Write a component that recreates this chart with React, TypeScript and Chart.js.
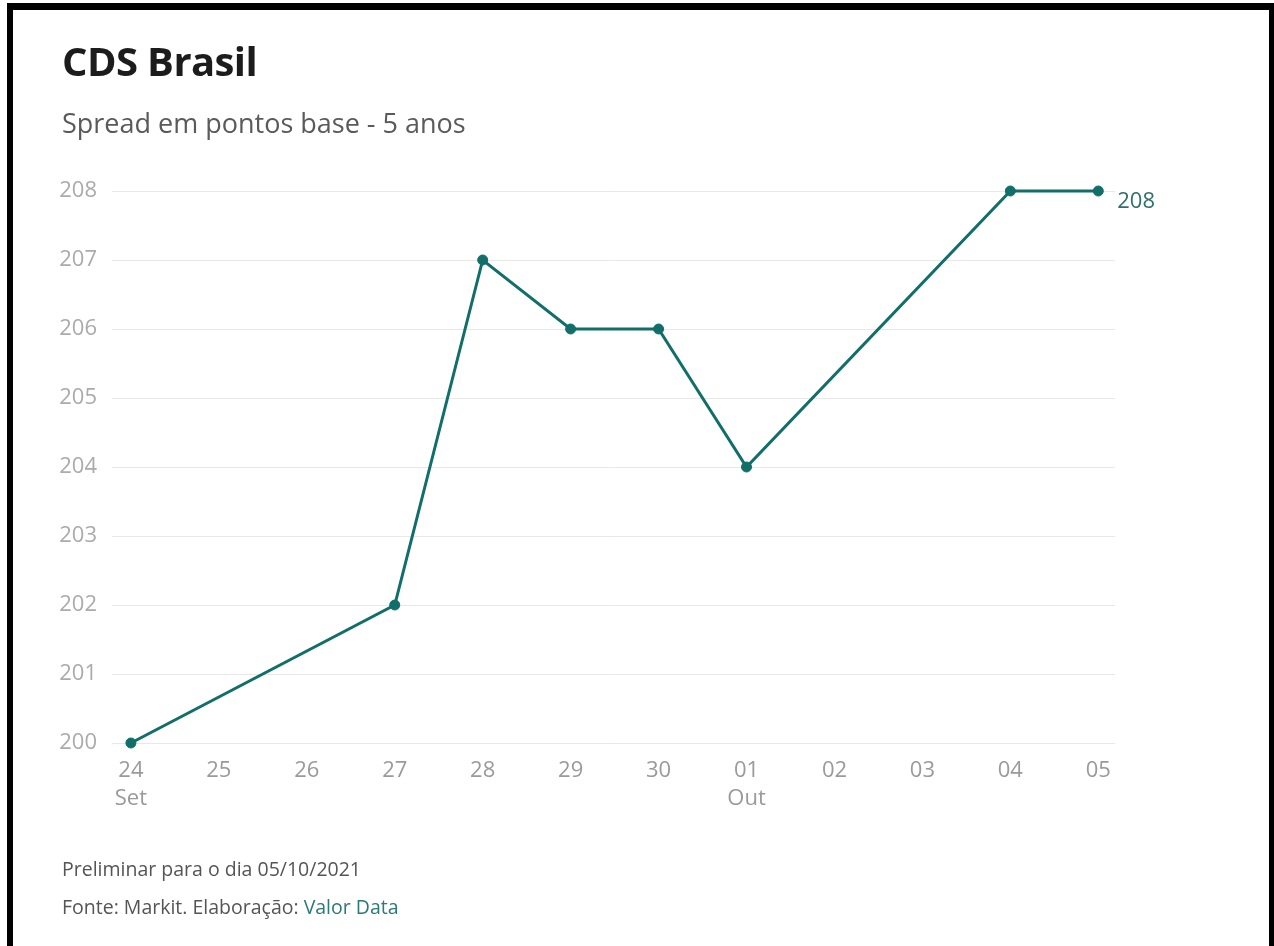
import React, { useEffect, useRef } from "react";
import { Chart, registerables } from "chart.js";

Chart.register(...registerables);

const dayLabels: (string | string[])[] = [
  ["24", "Set"], "25", "26", "27", "28", "29", "30", ["01", "Out"], "02", "03", "04", "05",
];
const spreadValues: (number | null)[] = [200, null, null, 202, 207, 206, 206, 204, null, null, 208, 208];
const yTicks = [200, 201, 202, 203, 204, 205, 206, 207, 208];

const FONT = "'Open Sans', 'Noto Sans', sans-serif";
const LINE_COLOR = "#116e69";

export default function App() {
  const canvasRef = useRef<HTMLCanvasElement | null>(null);

  useEffect(() => {
    const canvas = canvasRef.current;
    if (!canvas) return;
    const points = spreadValues
      .map((v, i) => (v === null ? null : { x: i, y: v }))
      .filter((p) => p !== null) as { x: number; y: number }[];

    const lastLabel = {
      id: "lastLabel",
      afterDatasetsDraw(chart: any) {
        const meta = chart.getDatasetMeta(0);
        const el = meta.data[meta.data.length - 1];
        const v = points[points.length - 1].y;
        const ctx = chart.ctx;
        ctx.save();
        ctx.font = `22px ${FONT}`;
        ctx.fillStyle = "#2f6f6c";
        ctx.textAlign = "left";
        ctx.textBaseline = "alphabetic";
        ctx.fillText(String(v), el.x + 19, el.y + 17);
        ctx.restore();
      },
    };

    const chart = new Chart(canvas, {
      type: "line",
      data: {
        datasets: [
          {
            data: points,
            borderColor: LINE_COLOR,
            backgroundColor: LINE_COLOR,
            borderWidth: 3,
            pointRadius: 5,
            pointBackgroundColor: LINE_COLOR,
            pointBorderColor: LINE_COLOR,
            pointBorderWidth: 1,
            tension: 0,
            clip: false,
          } as any,
        ],
      },
      options: {
        animation: false,
        responsive: false,
        layout: { padding: { top: 191, right: 159, left: 0, bottom: 0 } },
        plugins: { legend: { display: false }, tooltip: { enabled: false } },
        scales: {
          x: {
            type: "linear",
            min: -0.215,
            max: 11.19,
            grid: { display: false, drawTicks: false },
            border: { display: false },
            afterBuildTicks: (axis: any) => {
              axis.ticks = dayLabels.map((_, i) => ({ value: i }));
            },
            afterFit: (axis: any) => {
              axis.height = 946 - 743;
            },
            ticks: {
              autoSkip: false,
              maxRotation: 0,
              padding: 14,
              color: "#9a9a9a",
              font: { family: FONT, size: 22, lineHeight: 1.25 },
              callback: (value: any) => dayLabels[Math.round(Number(value))] as any,
            },
          },
          y: {
            min: 200,
            max: 208,
            grid: { color: "#e8e8e8", lineWidth: 1, drawTicks: false },
            border: { display: false },
            afterBuildTicks: (axis: any) => {
              axis.ticks = yTicks.map((v) => ({ value: v }));
            },
            afterFit: (axis: any) => {
              axis.width = 112;
            },
            ticks: {
              padding: 15,
              color: "#ababab",
              font: { family: FONT, size: 22 },
            },
          },
        },
      },
      plugins: [lastLabel],
    });
    return () => chart.destroy();
  }, []);

  const txt = (size: number, baseline: number, extra: React.CSSProperties = {}): React.CSSProperties => ({
    position: "absolute",
    left: 62,
    top: baseline - 0.888 * size,
    fontSize: size,
    lineHeight: 1,
    fontFamily: FONT,
    whiteSpace: "nowrap",
    ...extra,
  });

  return (
    <div style={{ position: "fixed", left: 0, top: 0, width: 1274, height: 946, background: "#fff", overflow: "hidden" }}>
      <canvas ref={canvasRef} width={1274} height={946} style={{ position: "absolute", left: 0, top: 0, width: 1274, height: 946 }} />
      <div
        style={{
          position: "absolute",
          left: 7,
          top: 3,
          width: 1267,
          height: 1000,
          boxSizing: "border-box",
          borderLeft: "6px solid #000",
          borderTop: "7px solid #000",
          borderRight: "5px solid #000",
          pointerEvents: "none",
        }}
      />
      <div style={txt(40, 77, { fontWeight: 700, color: "#1c1c1c", letterSpacing: -0.6 })}>CDS Brasil</div>
      <div style={txt(27, 133, { color: "#5a5a5a" })}>Spread em pontos base - 5 anos</div>
      <div style={txt(19.5, 876, { color: "#555" })}>Preliminar para o dia 05/10/2021</div>
      <div style={txt(19.5, 914, { color: "#555" })}>
        Fonte: Markit. Elaboração: <span style={{ color: "#2b7a78" }}>Valor Data</span>
      </div>
    </div>
  );
}
